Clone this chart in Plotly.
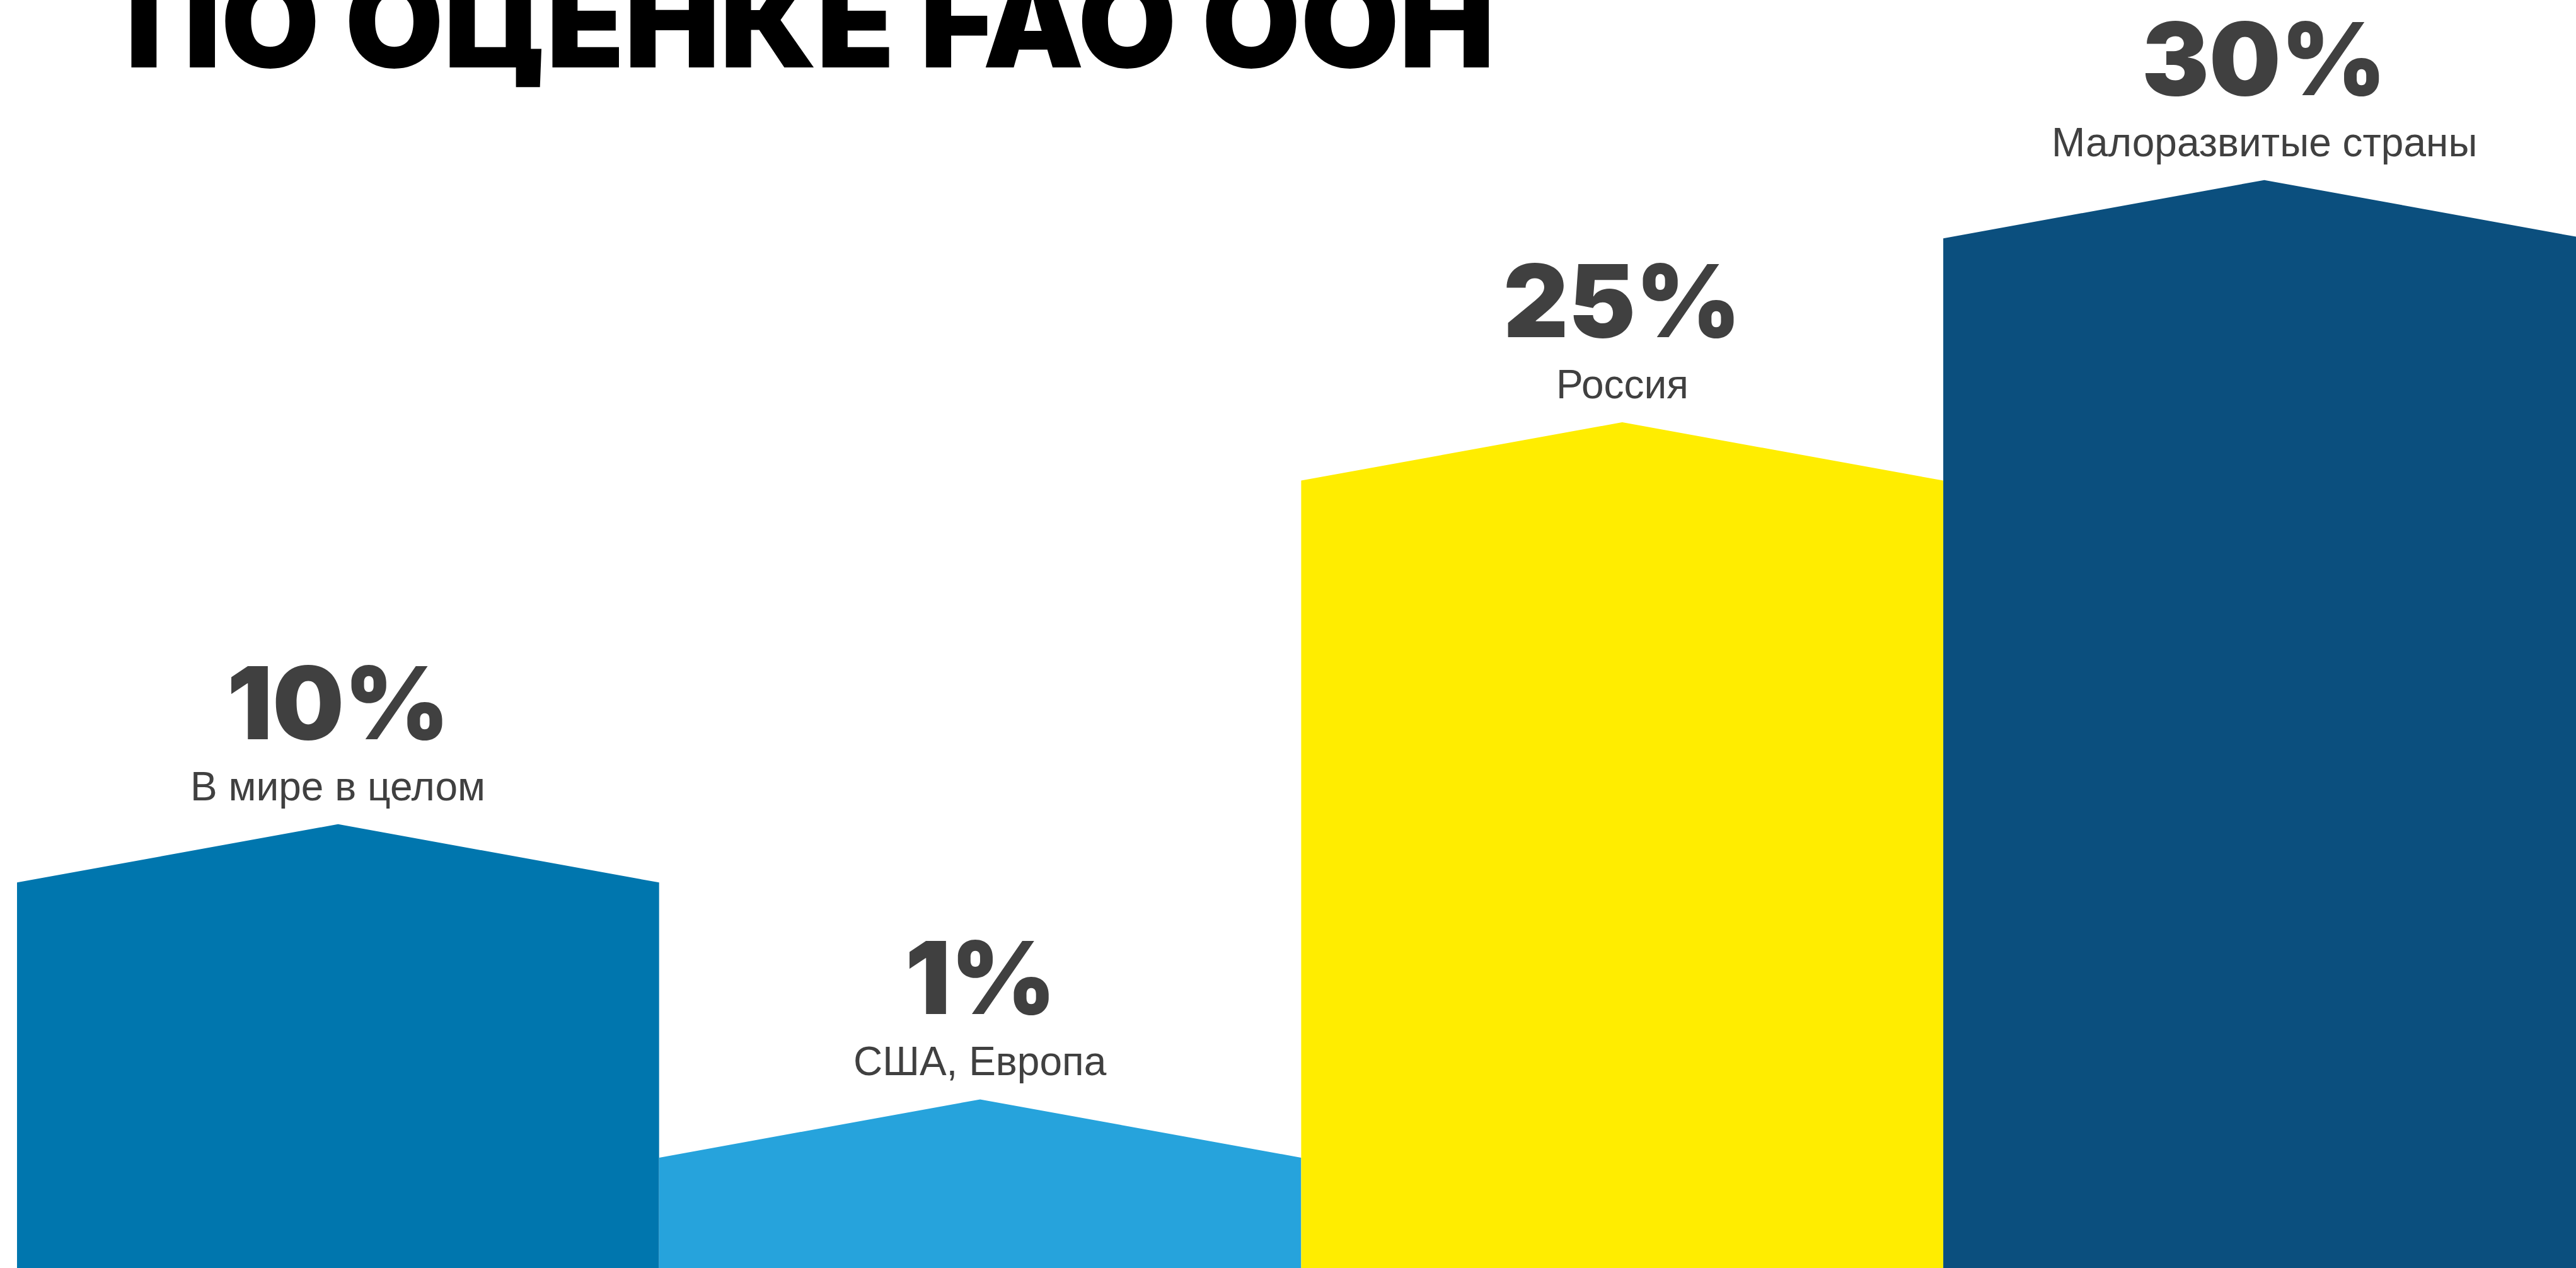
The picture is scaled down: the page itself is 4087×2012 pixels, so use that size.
import plotly.graph_objects as go

# data
categories = ["В мире в целом", "США, Европа", "Россия", "Малоразвитые страны"]
values = [10, 1, 25, 30]
# bar heights in the infographic (not to scale with the values), % of chart height
heights = [30.4, 8.7, 62.1, 81.2]
roof = 4.6
colors = ["#0076AE", "#26A3DC", "#FFED00", "#0B4F7E"]
title = "ПО ОЦЕНКЕ FAO ООН"

W, H = 4087, 2012

fig = go.Figure()

# house-shaped bars
for i, (h, c) in enumerate(zip(heights, colors)):
    fig.add_trace(go.Scatter(
        x=[i - 0.5, i - 0.5, i, i + 0.5, i + 0.5, i - 0.5],
        y=[0, h, h + roof, h, 0, 0],
        fill="toself", fillcolor=c, mode="lines",
        line=dict(width=0, color=c), hoverinfo="skip", showlegend=False,
    ))

for i, (cat, v, h) in enumerate(zip(categories, values, heights)):
    fig.add_annotation(
        x=i, y=h + roof, xref="x", yref="y",
        text=f"{v}%", showarrow=False, yanchor="bottom", yshift=94,
        font=dict(family="Inter", size=160, color="#404040", weight=900),
    )
    fig.add_annotation(
        x=i, y=h + roof, xref="x", yref="y",
        text=cat, showarrow=False, yanchor="bottom", yshift=22,
        font=dict(family="Liberation Sans, Arial", size=64, color="#404040"),
    )

# title line, partly cut off at the top of the frame
fig.add_annotation(
    x=197 / W, y=1 - 158 / H, xref="paper", yref="paper",
    text=title, showarrow=False, xanchor="left", yanchor="bottom",
    font=dict(family="Inter", size=202, color="#000000", weight=900),
)

x0 = -0.5 - 27 / 1018.7
fig.update_xaxes(range=[x0, x0 + W / 1018.7], visible=False, showgrid=False, zeroline=False)
fig.update_yaxes(range=[0, 100], visible=False, showgrid=False, zeroline=False)
fig.update_layout(
    width=W, height=H,
    margin=dict(l=0, r=0, t=0, b=0),
    plot_bgcolor="white", paper_bgcolor="white",
)

fig.write_html("out.html", config={"displayModeBar": False},
               post_script="document.body.style.margin='0';")
